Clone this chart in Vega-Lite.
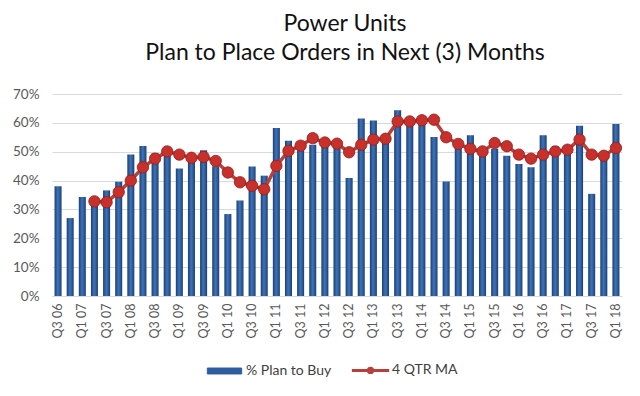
{
  "$schema": "https://vega.github.io/schema/vega-lite/v6.json",
  "width": 570,
  "height": 202,
  "autosize": {"type": "none"},
  "padding": {"left": 52, "top": 94, "right": 18, "bottom": 100},
  "background": "white",
  "config": {
    "view": {"stroke": null},
    "font": "Lato",
    "axis": {"labelFont": "Lato", "labelColor": "#595959"}
  },
  "title": {
    "text": ["Power Units", "Plan to Place Orders in Next (3) Months"],
    "fontSize": 23,
    "fontWeight": "normal",
    "font": "Lato",
    "color": "#111111",
    "lineHeight": 29,
    "anchor": "middle",
    "frame": "group",
    "dx": 8,
    "offset": 22
  },
  "data": {
    "values": [
      {"q": "Q3 06", "buy": 38.0, "ma": null},
      {"q": "Q4 06", "buy": 27.0, "ma": null},
      {"q": "Q1 07", "buy": 34.3, "ma": null},
      {"q": "Q2 07", "buy": 32.0, "ma": 32.8},
      {"q": "Q3 07", "buy": 36.6, "ma": 32.5},
      {"q": "Q4 07", "buy": 39.6, "ma": 36.0},
      {"q": "Q1 08", "buy": 49.0, "ma": 40.0},
      {"q": "Q2 08", "buy": 52.0, "ma": 44.6},
      {"q": "Q3 08", "buy": 49.5, "ma": 47.6},
      {"q": "Q4 08", "buy": 49.5, "ma": 50.1},
      {"q": "Q1 09", "buy": 44.2, "ma": 49.0},
      {"q": "Q2 09", "buy": 47.5, "ma": 47.9},
      {"q": "Q3 09", "buy": 50.5, "ma": 48.2},
      {"q": "Q4 09", "buy": 45.0, "ma": 46.8},
      {"q": "Q1 10", "buy": 28.4, "ma": 42.8},
      {"q": "Q2 10", "buy": 33.1, "ma": 39.4},
      {"q": "Q3 10", "buy": 44.9, "ma": 38.2},
      {"q": "Q4 10", "buy": 41.7, "ma": 37.0},
      {"q": "Q1 11", "buy": 58.2, "ma": 45.1},
      {"q": "Q2 11", "buy": 53.8, "ma": 50.3},
      {"q": "Q3 11", "buy": 53.5, "ma": 52.1},
      {"q": "Q4 11", "buy": 52.4, "ma": 54.7},
      {"q": "Q1 12", "buy": 52.6, "ma": 53.2},
      {"q": "Q2 12", "buy": 52.2, "ma": 52.8},
      {"q": "Q3 12", "buy": 40.9, "ma": 49.8},
      {"q": "Q4 12", "buy": 61.5, "ma": 52.4},
      {"q": "Q1 13", "buy": 60.8, "ma": 54.2},
      {"q": "Q2 13", "buy": 54.8, "ma": 54.5},
      {"q": "Q3 13", "buy": 64.4, "ma": 60.5},
      {"q": "Q4 13", "buy": 62.0, "ma": 60.5},
      {"q": "Q1 14", "buy": 62.4, "ma": 60.9},
      {"q": "Q2 14", "buy": 55.1, "ma": 61.1},
      {"q": "Q3 14", "buy": 39.7, "ma": 55.0},
      {"q": "Q4 14", "buy": 53.6, "ma": 52.7},
      {"q": "Q1 15", "buy": 55.7, "ma": 51.0},
      {"q": "Q2 15", "buy": 51.4, "ma": 50.1},
      {"q": "Q3 15", "buy": 51.0, "ma": 53.0},
      {"q": "Q4 15", "buy": 48.6, "ma": 51.9},
      {"q": "Q1 16", "buy": 45.7, "ma": 49.0},
      {"q": "Q2 16", "buy": 44.6, "ma": 47.6},
      {"q": "Q3 16", "buy": 55.7, "ma": 49.0},
      {"q": "Q4 16", "buy": 51.9, "ma": 50.1},
      {"q": "Q1 17", "buy": 50.6, "ma": 50.7},
      {"q": "Q2 17", "buy": 59.0, "ma": 54.2},
      {"q": "Q3 17", "buy": 35.4, "ma": 49.0},
      {"q": "Q4 17", "buy": 49.4, "ma": 48.6},
      {"q": "Q1 18", "buy": 59.6, "ma": 51.3}
    ]
  },
  "encoding": {
    "x": {
      "field": "q",
      "type": "nominal",
      "sort": null,
      "title": null,
      "scale": {"paddingInner": 0.42, "paddingOuter": 0.21},
      "axis": {
        "values": ["Q3 06","Q1 07","Q3 07","Q1 08","Q3 08","Q1 09","Q3 09","Q1 10","Q3 10","Q1 11","Q3 11","Q1 12","Q3 12","Q1 13","Q3 13","Q1 14","Q3 14","Q1 15","Q3 15","Q1 16","Q3 16","Q1 17","Q3 17","Q1 18"],
        "labelAngle": -90,
        "labelFontSize": 12.5,
        "labelPadding": 7,
        "ticks": false,
        "domainColor": "#D9D9D9",
        "domainWidth": 1,
        "grid": false
      }
    }
  },
  "layer": [
    {
      "mark": {
        "type": "bar",
        "color": {
          "gradient": "linear",
          "x1": 0, "y1": 0, "x2": 1, "y2": 0,
          "stops": [
            {"offset": 0, "color": "#1B3F70"},
            {"offset": 0.45, "color": "#3D72B8"},
            {"offset": 0.6, "color": "#3569AE"},
            {"offset": 1, "color": "#1B3F70"}
          ]
        }
      },
      "encoding": {
        "y": {
          "field": "buy",
          "type": "quantitative",
          "title": null,
          "scale": {"domain": [0, 70], "nice": false, "zero": true},
          "axis": {
            "values": [0, 10, 20, 30, 40, 50, 60, 70],
            "labelExpr": "datum.value + '%'",
            "labelFontSize": 13.5,
            "labelPadding": 13,
            "labelOverlap": false,
            "labelBound": false,
            "ticks": false,
            "domain": false,
            "gridColor": "#D9D9D9",
            "gridWidth": 1
          }
        }
      }
    },
    {
      "mark": {"type": "line", "strokeWidth": 3.5},
      "encoding": {
        "y": {
          "field": "ma",
          "type": "quantitative",
          "title": null,
          "scale": {"domain": [0, 70], "nice": false, "zero": true},
          "axis": {
            "values": [0, 10, 20, 30, 40, 50, 60, 70],
            "labelExpr": "datum.value + '%'",
            "labelFontSize": 13.5,
            "labelPadding": 13,
            "labelOverlap": false,
            "labelBound": false,
            "ticks": false,
            "domain": false,
            "gridColor": "#D9D9D9",
            "gridWidth": 1
          }
        },
        "color": {
          "datum": "4 QTR MA",
          "type": "nominal",
          "scale": {"domain": ["% Plan to Buy", "4 QTR MA"], "range": ["#2E5E9F", "#B8403C"]},
          "legend": {
            "title": null,
            "orient": "none",
            "direction": "horizontal",
            "legendX": 165.5,
            "legendY": 269,
            "padding": 0,
            "symbolSize": 1089,
            "labelFontSize": 14,
            "labelColor": "#404040",
            "labelFont": "Lato",
            "labelOffset": 14.5,
            "columnPadding": 14,
            "encode": {
              "symbols": {
                "update": {
                  "shape": {"signal": "datum.value === '4 QTR MA' ? 'M-1.13,0H1.13M0.13,0A0.13,0.13 0 1 1 -0.13,0A0.13,0.13 0 1 1 0.13,0' : 'M-1.04,-0.18H1.04V0.18H-1.04Z'"},
                  "fill": {"signal": "datum.value === '4 QTR MA' ? '#C8332F' : '#2E5E9F'"},
                  "stroke": {"signal": "datum.value === '4 QTR MA' ? '#B8403C' : '#1B3F70'"},
                  "strokeWidth": {"signal": "datum.value === '4 QTR MA' ? 3 : 1"},
                  "opacity": {"value": 1},
                  "fillOpacity": {"value": 1},
                  "strokeOpacity": {"value": 1}
                }
              }
            }
          }
        }
      }
    },
    {
      "mark": {"type": "point", "filled": true, "size": 130, "color": "#C8302C", "stroke": "#8E1F1C", "strokeWidth": 0.8, "opacity": 1},
      "encoding": {
        "y": {
          "field": "ma",
          "type": "quantitative",
          "title": null,
          "scale": {"domain": [0, 70], "nice": false, "zero": true},
          "axis": {
            "values": [0, 10, 20, 30, 40, 50, 60, 70],
            "labelExpr": "datum.value + '%'",
            "labelFontSize": 13.5,
            "labelPadding": 13,
            "labelOverlap": false,
            "labelBound": false,
            "ticks": false,
            "domain": false,
            "gridColor": "#D9D9D9",
            "gridWidth": 1
          }
        }
      }
    }
  ]
}
